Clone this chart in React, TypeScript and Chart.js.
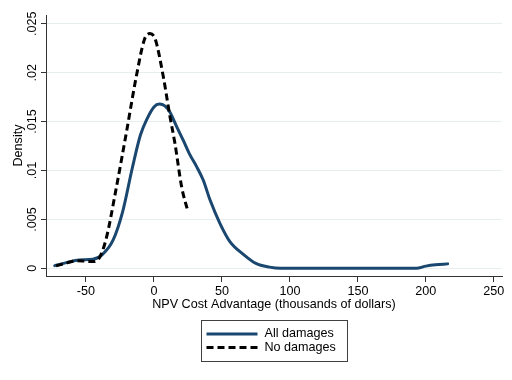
import React, { useEffect, useRef } from "react";
import { Chart, registerables } from "chart.js";

Chart.register(...registerables);

// ---- data ----
const allDamagesX = [-73, -65, -55, -45, -38, -30, -23, -16, -10, -5, 0, 4, 8, 12, 16.7, 21.5, 26.5, 31.4, 36.3, 41.2, 48.5, 56, 66, 75, 85, 93, 150, 193, 200, 207, 216];
const allDamagesY = [0.00027, 0.00055, 0.00085, 0.00092, 0.0014, 0.0029, 0.0058, 0.0102, 0.0136, 0.0153, 0.0165, 0.0168, 0.0166, 0.0159, 0.01448, 0.0131, 0.0116, 0.0104, 0.009, 0.007, 0.0046, 0.0027, 0.0014, 0.0005, 0.00012, 0, 0, 0, 0.00022, 0.00036, 0.00045];
const noDamagesX = [-72, -64, -57, -50, -45, -40, -35, -28, -20, -13, -7, -3, 1, 7, 11.8, 15.4, 20.4, 25];
const noDamagesY = [0.00024, 0.00055, 0.00078, 0.00072, 0.00068, 0.0011, 0.0031, 0.008, 0.0141, 0.0196, 0.0234, 0.024, 0.0234, 0.0195, 0.0155, 0.0128, 0.0083, 0.0058];

const seriesLabels = ["All damages", "No damages"];
const xTicks = [-50, 0, 50, 100, 150, 200, 250];
const yTicks = [0, 0.005, 0.01, 0.015, 0.02, 0.025];
const yTickLabels = ["0", ".005", ".01", ".015", ".02", ".025"];
const xTitle = "NPV Cost Advantage (thousands of dollars)";
const yTitle = "Density";

const X_MIN = -79.4;
const X_MAX = 256;
const Y_MIN = -0.00079;
const Y_MAX = 0.0259;

const FAMILY = '"Liberation Sans", Arial, Helvetica, sans-serif';
const FSIZE = 12.6;

const boxLegend = {
  id: "boxLegend",
  afterDraw(chart: any) {
    const { ctx, chartArea } = chart;
    const ds = chart.data.datasets;
    const w = 146;
    const h = 41;
    const left = Math.round((chartArea.left + chartArea.right) / 2 - w / 2) + 0.5;
    const top = Math.round(chartArea.bottom + 44) + 0.5;
    ctx.save();
    ctx.strokeStyle = "#404040";
    ctx.lineWidth = 1;
    ctx.setLineDash([]);
    ctx.strokeRect(left, top, w, h);
    ds.forEach((d: any, i: number) => {
      const y = top + 13.5 + i * 13.5;
      ctx.beginPath();
      ctx.setLineDash(d.borderDash || []);
      ctx.lineWidth = d.borderWidth;
      ctx.strokeStyle = d.borderColor;
      ctx.lineCap = "butt";
      ctx.moveTo(left + 5, y);
      ctx.lineTo(left + 56, y);
      ctx.stroke();
      ctx.setLineDash([]);
      ctx.fillStyle = "#000";
      ctx.font = `${FSIZE}px ${FAMILY}`;
      ctx.textBaseline = "middle";
      ctx.textAlign = "left";
      ctx.fillText(d.label, left + 63, y);
    });
    ctx.restore();
  },
};

export default function App() {
  const ref = useRef<HTMLCanvasElement | null>(null);

  useEffect(() => {
    if (!ref.current) return;
    const chart = new Chart(ref.current, {
      type: "line",
      data: {
        datasets: [
          {
            label: seriesLabels[0],
            data: allDamagesX.map((x, i) => ({ x, y: allDamagesY[i] })),
            borderColor: "#1a476f",
            backgroundColor: "#1a476f",
            borderWidth: 3,
            pointRadius: 0,
            cubicInterpolationMode: "monotone",
            borderCapStyle: "round",
            borderJoinStyle: "round",
            fill: false,
            order: 1,
          },
          {
            label: seriesLabels[1],
            data: noDamagesX.map((x, i) => ({ x, y: noDamagesY[i] })),
            borderColor: "#000000",
            backgroundColor: "#000000",
            borderWidth: 3,
            borderDash: [7, 4],
            pointRadius: 0,
            cubicInterpolationMode: "monotone",
            fill: false,
            order: 0,
          },
        ],
      },
      options: {
        responsive: false,
        animation: false,
        devicePixelRatio: 1,
        layout: { padding: { left: 0, right: 10, top: 15, bottom: 68 } },
        plugins: {
          legend: { display: false },
          tooltip: { enabled: false },
        },
        scales: {
          x: {
            type: "linear",
            min: X_MIN,
            max: X_MAX,
            afterBuildTicks: (scale: any) => {
              scale.ticks = xTicks.map((v) => ({ value: v }));
            },
            afterFit: (scale: any) => {
              scale.height = 36;
            },
            grid: {
              drawOnChartArea: false,
              drawTicks: true,
              tickLength: 6,
              tickColor: "#333",
            },
            border: { display: true, color: "#333", width: 1 },
            ticks: {
              autoSkip: false,
              maxRotation: 0,
              minRotation: 0,
              padding: 2,
              color: "#000",
              font: { family: FAMILY, size: FSIZE },
              callback: (v: any) => String(v),
            },
            title: {
              display: true,
              text: xTitle,
              color: "#000",
              font: { family: FAMILY, size: FSIZE },
              padding: { top: 0, bottom: 0 },
            },
          },
          y: {
            type: "linear",
            min: Y_MIN,
            max: Y_MAX,
            afterBuildTicks: (scale: any) => {
              scale.ticks = yTicks.map((v) => ({ value: v }));
            },
            afterFit: (scale: any) => {
              scale.width = 46;
            },
            grid: {
              color: "#e6eef0",
              lineWidth: 1,
              drawTicks: true,
              tickLength: 5,
              tickColor: "#333",
            },
            border: { display: true, color: "#333", width: 1 },
            ticks: {
              autoSkip: false,
              minRotation: 90,
              maxRotation: 90,
              crossAlign: "center",
              padding: -3.6,
              color: "#000",
              font: { family: FAMILY, size: FSIZE },
              callback: (v: any) => {
                const idx = yTicks.findIndex((t) => Math.abs(t - v) < 1e-9);
                return idx >= 0 ? yTickLabels[idx] : "";
              },
            },
            title: {
              display: true,
              text: yTitle,
              color: "#000",
              font: { family: FAMILY, size: FSIZE },
              padding: { top: 10.5, bottom: 0 },
            },
          },
        },
      },
      plugins: [boxLegend],
    } as any);
    return () => chart.destroy();
  }, []);

  return (
    <div style={{ position: "fixed", left: 0, top: 0, width: 512, height: 380, background: "#fff" }}>
      <canvas ref={ref} width={512} height={380} style={{ display: "block", width: 512, height: 380 }} />
    </div>
  );
}
